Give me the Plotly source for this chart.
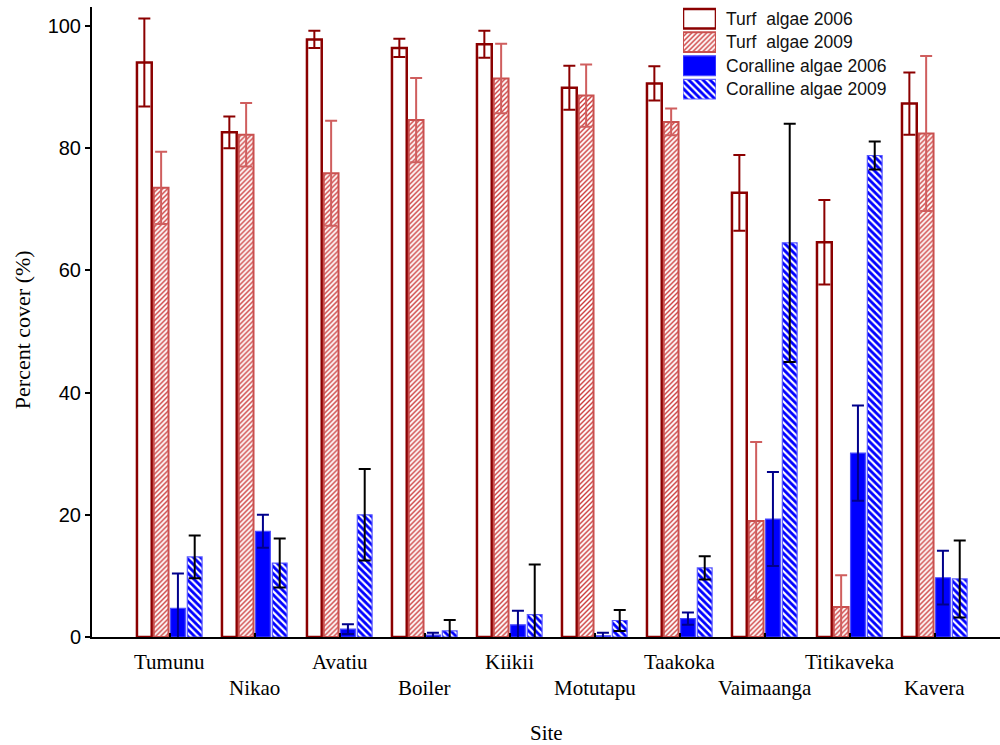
import plotly.graph_objects as go

# Sites along the reef survey, left to right
sites = ["Tumunu", "Nikao", "Avatiu", "Boiler", "Kiikii",
         "Motutapu", "Taakoka", "Vaimaanga", "Titikaveka", "Kavera"]

# Mean percent cover and error (half-length of error bar)
turf_2006 = [94.0, 82.6, 97.8, 96.4, 97.0, 89.9, 90.6, 72.7, 64.6, 87.3]
turf_2006_err = [7.2, 2.6, 1.4, 1.5, 2.2, 3.6, 2.8, 6.2, 6.9, 5.1]

turf_2009 = [73.5, 82.2, 75.9, 84.6, 91.4, 88.6, 84.3, 19.0, 4.9, 82.4]
turf_2009_err = [5.9, 5.2, 8.6, 6.9, 5.7, 5.1, 2.2, 12.9, 5.2, 12.7]

coral_2006 = [4.7, 17.3, 1.3, 0.3, 2.0, 0.2, 3.0, 19.3, 30.1, 9.7]
coral_2006_err = [5.7, 2.7, 0.8, 0.4, 2.3, 0.5, 1.0, 7.7, 7.8, 4.4]

coral_2009 = [13.1, 12.1, 20.0, 1.0, 3.65, 2.7, 11.3, 64.5, 78.8, 9.5]
coral_2009_err = [3.5, 4.0, 7.5, 1.8, 8.2, 1.7, 1.9, 19.5, 2.3, 6.3]

series_names = ["Turf\u00a0 algae 2006", "Turf\u00a0 algae 2009",
                "Coralline algae 2006", "Coralline algae 2009"]
y_ticks = [0, 20, 40, 60, 80, 100]

# Visual style per series
styles = [
    dict(color="white", line="#8B0000", lw=2.5, pattern=None, err="#8B0000"),
    dict(color="white", line="#C9504F", lw=2.0,
         pattern=dict(shape="/", fgcolor="#CC3A3A", bgcolor="white",
                      size=3.5, solidity=0.4, fillmode="replace"),
         err="#CF5E5E"),
    dict(color="#0000FF", line="#4A4AFF", lw=1.2, pattern=None, err="#00008B"),
    dict(color="#0000FF", line="#5A5AFF", lw=1.2,
         pattern=dict(shape="\\", fgcolor="white", bgcolor="#0000FF",
                      size=5, solidity=0.42, fillmode="replace"),
         err="black"),
]

values = [turf_2006, turf_2009, coral_2006, coral_2009]
errors = [turf_2006_err, turf_2009_err, coral_2006_err, coral_2009_err]


def bar_marker(st):
    m = dict(color=st["color"], line=dict(color=st["line"], width=st["lw"]))
    if st["pattern"]:
        m["pattern"] = st["pattern"]
    return m


fig = go.Figure()
for name, vals, errs, st in zip(series_names, values, errors, styles):
    fig.add_trace(go.Bar(
        x=sites, y=vals, name=name, marker=bar_marker(st),
        error_y=dict(type="data", array=errs, visible=True,
                     color=st["err"], thickness=2, width=6),
        showlegend=False, xaxis="x", yaxis="y",
    ))

# Key drawn as a small inset of horizontal bars, one per series
for name, st in zip(series_names, styles):
    fig.add_trace(go.Bar(
        orientation="h", y=[name], x=[1], width=0.84, offsetgroup="key",
        marker=bar_marker(st), showlegend=False,
        xaxis="x2", yaxis="y2", hoverinfo="skip",
    ))

annotations = []
for name in series_names:
    annotations.append(dict(
        x=0.6960, xref="paper", y=name, yref="y2", text=name,
        xanchor="left", yanchor="middle", showarrow=False,
        font=dict(family="Liberation Sans, Arial, sans-serif", size=17.5, color="#111111"),
    ))

# Site labels staggered over two rows
for i, s in enumerate(sites):
    annotations.append(dict(
        x=s, xref="x", y=0, yref="paper", text=s,
        xanchor="center", yanchor="middle", showarrow=False,
        yshift=-25 if i % 2 == 0 else -51,
        font=dict(family="Liberation Serif, Times New Roman, serif", size=21, color="black"),
    ))

annotations.append(dict(
    x=0.5, xref="paper", y=0, yref="paper", text="Site",
    xanchor="center", yanchor="middle", showarrow=False, yshift=-96,
    font=dict(family="Liberation Serif, Times New Roman, serif", size=21, color="black"),
))
annotations.append(dict(
    x=0, xref="paper", y=0.487, yref="paper", text="Percent cover (%)",
    textangle=-90, xanchor="center", yanchor="middle", showarrow=False, xshift=-70,
    font=dict(family="Liberation Serif, Times New Roman, serif", size=22, color="black"),
))

fig.update_layout(
    width=1000, height=745,
    margin=dict(l=92, r=0, t=7, b=108),
    paper_bgcolor="white", plot_bgcolor="white",
    barmode="group", bargap=0.21, bargroupgap=0.12,
    annotations=annotations,
    xaxis=dict(
        range=[-0.912, 9.77], showline=True, linecolor="black", linewidth=2,
        ticks="inside", ticklen=4, tickwidth=2, tickcolor="black",
        showticklabels=False, showgrid=False, zeroline=False,
    ),
    yaxis=dict(
        range=[0, 103.1], tickvals=y_ticks, showline=True, linecolor="black",
        linewidth=2, ticks="outside", ticklen=5, tickwidth=2, tickcolor="black",
        showgrid=False, zeroline=False,
        tickfont=dict(family="Liberation Sans, Arial, sans-serif", size=20, color="black"),
    ),
    xaxis2=dict(domain=[0.6509, 0.6872], range=[0, 1], anchor="y2", visible=False,
                fixedrange=True),
    yaxis2=dict(domain=[0.851, 1.0], range=[3.5, -0.5], anchor="x2", visible=False,
                type="category", fixedrange=True),
)

fig.write_html("out.html")
